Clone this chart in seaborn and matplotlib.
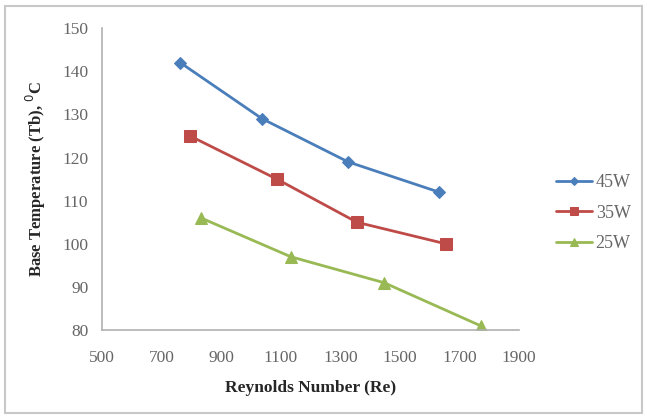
import pandas as pd
import matplotlib.pyplot as plt
import seaborn as sns
from matplotlib.patches import Rectangle

# data
re_45 = [762, 1037, 1326, 1631]
tb_45 = [142, 129, 119, 112]
re_35 = [795, 1087, 1356, 1655]
tb_35 = [125, 115, 105, 100]
re_25 = [832, 1134, 1447, 1772]
tb_25 = [106, 97, 91, 81]
series = ['45W', '35W', '25W']

df = pd.concat([
    pd.DataFrame({'Re': re_45, 'Tb': tb_45, 'power': '45W'}),
    pd.DataFrame({'Re': re_35, 'Tb': tb_35, 'power': '35W'}),
    pd.DataFrame({'Re': re_25, 'Tb': tb_25, 'power': '25W'}),
], ignore_index=True)

sns.set_style('white')
plt.rcParams['font.family'] = ['Liberation Serif', 'DejaVu Serif']

fig = plt.figure(figsize=(6.47, 4.19), dpi=100)
ax = fig.add_axes([0.158, 0.212, 0.644, 0.721])

colors = {'45W': '#4a7ebb', '35W': '#be4b48', '25W': '#98b954'}
markers = {'45W': 'D', '35W': 's', '25W': '^'}
sizes = {'45W': 6, '35W': 8, '25W': 8}
for s in series:
    sns.lineplot(data=df[df['power'] == s], x='Re', y='Tb', ax=ax, color=colors[s],
                 marker=markers[s], markersize=sizes[s], markeredgecolor=colors[s],
                 linewidth=2, label=s, sort=False)

ax.set_xlim(500, 1900)
ax.set_ylim(80, 150)
ax.set_xticks(range(500, 1901, 200))
ax.set_yticks(range(80, 151, 10))
ax.tick_params(axis='both', colors='#666666', labelsize=12.5, length=0)
ax.tick_params(axis='x', pad=14)
ax.tick_params(axis='y', pad=10)
for side in ['top', 'right']:
    ax.spines[side].set_visible(False)
for side in ['left', 'bottom']:
    ax.spines[side].set_color('#b0b0b0')
    ax.spines[side].set_linewidth(1.2)

ax.set_xlabel('Reynolds Number (Re)', fontsize=12.5, fontweight='bold', labelpad=10)
ax.set_ylabel('Base Temperature (Tb), $^{0}$C', fontsize=12, fontweight='bold', labelpad=10)

leg = ax.legend(loc='center left', bbox_to_anchor=(1.05, 0.387), frameon=False,
                fontsize=13, handlelength=2.0, labelspacing=0.75, handletextpad=0.2,
                markerscale=0.7)
for t in leg.get_texts():
    t.set_color('#666666')

fig.patches.append(Rectangle((0.008, 0.015), 0.984, 0.97, transform=fig.transFigure,
                             fill=False, edgecolor='#c8c8c8', linewidth=1.5))

fig.savefig('out.png', dpi=100)
